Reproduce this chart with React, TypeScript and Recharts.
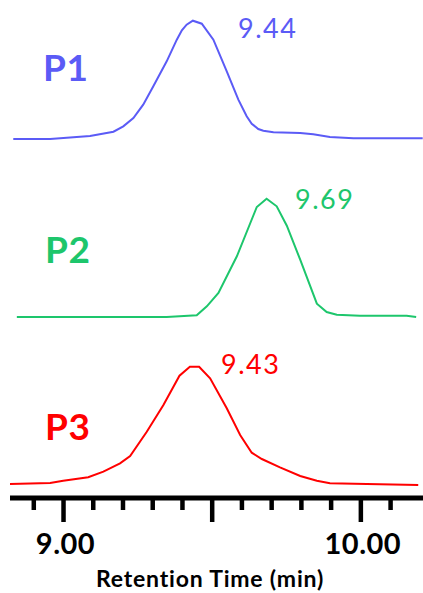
import { LineChart, Line, XAxis, YAxis } from "recharts";

// retention time axis (min)
const X_DOMAIN: [number, number] = [8.82, 10.209];
const TICKS = [8.9, 9.0, 9.1, 9.2, 9.3, 9.4, 9.5, 9.6, 9.7, 9.8, 9.9, 10.0, 10.1];
const MAJOR_TICKS = [9.0, 9.5, 10.0];
const LABELED_TICKS = [9.0, 10.0];

// P1 trace
const P1_TIME = [8.831, 8.955, 9.011, 9.089, 9.168, 9.201, 9.235, 9.268, 9.302, 9.347, 9.381, 9.398, 9.414, 9.435, 9.465, 9.504, 9.549, 9.588, 9.616, 9.633, 9.655, 9.672, 9.706, 9.796, 9.84, 9.896, 9.975, 10.208];
const P1_SIGNAL = [0, 0, 1.3, 3, 7.3, 12.7, 21, 34.3, 52.7, 77.7, 99.3, 108.7, 114.3, 118.3, 115.3, 99.3, 67.7, 39.3, 22.7, 15.3, 10, 8.3, 6.7, 6, 4.7, 2, 0.7, 0.7];

// P2 trace
const P2_TIME = [8.843, 9.347, 9.448, 9.482, 9.521, 9.583, 9.65, 9.683, 9.717, 9.751, 9.796, 9.852, 9.885, 9.919, 9.997, 10.154, 10.186];
const P2_SIGNAL = [0, 0, 1.7, 10.7, 24, 60.7, 110, 118.3, 110.7, 91.3, 57.3, 13.3, 5, 2.3, 1.3, 1.3, 0];

// P3 trace
const P3_TIME = [8.82, 8.955, 8.999, 9.083, 9.134, 9.19, 9.224, 9.28, 9.336, 9.39, 9.425, 9.456, 9.493, 9.549, 9.594, 9.633, 9.667, 9.728, 9.796, 9.852, 9.896, 10.02, 10.193];
const P3_SIGNAL = [0, 1, 3.3, 6.7, 12.3, 20.7, 28, 52.3, 79, 108.3, 117.3, 117.3, 105.7, 75.7, 49, 31.3, 25, 16.7, 8, 3.3, 0.7, 0, -1];

const PEAK_LABELS = ["9.44", "9.69", "9.43"];
const SAMPLE_NAMES = ["P1", "P2", "P3"];

const BLUE = "#5B5BF6";
const GREEN = "#1DC66C";
const RED = "#FF0000";
const FONT = "Lato, 'Open Sans', sans-serif";

const toRows = (t: number[], s: number[]) => t.map((time, i) => ({ time, signal: s[i] }));

const near = (list: number[], v: number) => list.some((m) => Math.abs(m - v) < 1e-6);

const AxisTick = (props: any) => {
  const { x, y, payload } = props;
  const v = payload.value as number;
  const major = near(MAJOR_TICKS, v);
  return (
    <g>
      <line x1={x} x2={x} y1={y} y2={y + (major ? 24 : 12)} stroke="#000" strokeWidth={4.5} />
      {near(LABELED_TICKS, v) && (
        <text x={x + 2} y={y + 56} textAnchor="middle" fontFamily={FONT} fontWeight={700} fontSize={29} letterSpacing={0.5} fill="#000">
          {v.toFixed(2)}
        </text>
      )}
    </g>
  );
};

interface PanelProps {
  rows: { time: number; signal: number }[];
  color: string;
  height: number;
  yDomain: [number, number];
  top: number;
  withAxis?: boolean;
}

function Panel({ rows, color, height, yDomain, top, withAxis }: PanelProps) {
  return (
    <div style={{ position: "absolute", left: 0, top }}>
      <LineChart width={423} height={height} data={rows} margin={{ top: 0, right: 0, bottom: 0, left: 10 }}>
        <XAxis
          dataKey="time"
          type="number"
          domain={X_DOMAIN}
          allowDataOverflow
          hide={!withAxis}
          height={95}
          ticks={TICKS}
          interval={0}
          tickSize={0}
          tickMargin={0}
          tickLine={false}
          axisLine={{ stroke: "#000", strokeWidth: 5 }}
          tick={<AxisTick />}
        />
        <YAxis type="number" domain={yDomain} allowDataOverflow hide />
        <Line
          type="linear"
          dataKey="signal"
          stroke={color}
          strokeWidth={2}
          dot={false}
          isAnimationActive={false}
        />
      </LineChart>
    </div>
  );
}

export default function App() {
  return (
    <div style={{ position: "absolute", left: 0, top: 0, width: 423, height: 593, background: "#fff" }}>
      <Panel rows={toRows(P1_TIME, P1_SIGNAL)} color={BLUE} height={150} yDomain={[-11, 139]} top={0} />
      <Panel rows={toRows(P2_TIME, P2_SIGNAL)} color={GREEN} height={180} yDomain={[-13, 167]} top={150} />
      <Panel rows={toRows(P3_TIME, P3_SIGNAL)} color={RED} height={263} yDomain={[-14, 154]} top={330} withAxis />
      <svg width={423} height={593} style={{ position: "absolute", left: 0, top: 0, pointerEvents: "none" }}>
        <g fontFamily={FONT} fontWeight={700} fontSize={37} letterSpacing={0.5}>
          <text x={43} y={81} fill={BLUE}>{SAMPLE_NAMES[0]}</text>
          <text x={45} y={263} fill={GREEN}>{SAMPLE_NAMES[1]}</text>
          <text x={45} y={440} fill={RED}>{SAMPLE_NAMES[2]}</text>
        </g>
        <g fontFamily={FONT} fontSize={27} letterSpacing={1.5}>
          <text x={238} y={38} fill={BLUE}>{PEAK_LABELS[0]}</text>
          <text x={295} y={209} fill={GREEN}>{PEAK_LABELS[1]}</text>
          <text x={221} y={374} fill={RED}>{PEAK_LABELS[2]}</text>
        </g>
        <text x={210} y={587} textAnchor="middle" fontFamily={FONT} fontWeight={700} fontSize={23} letterSpacing={0.8} fill="#000">
          Retention Time (min)
        </text>
      </svg>
    </div>
  );
}
